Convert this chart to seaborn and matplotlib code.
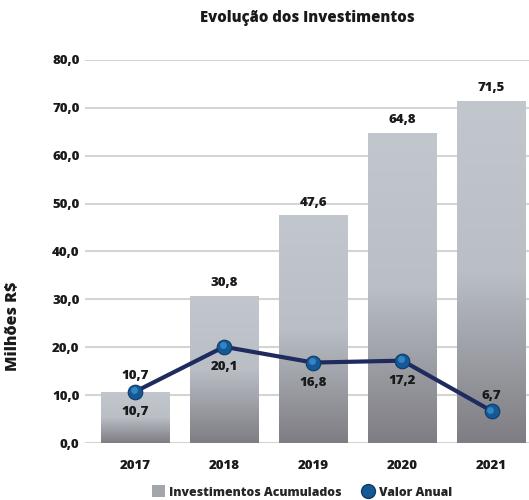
import numpy as np
import matplotlib
matplotlib.use("Agg")
import matplotlib.pyplot as plt
import matplotlib.transforms as mtransforms
from matplotlib.lines import Line2D
from matplotlib.patches import Patch
from matplotlib.colors import LinearSegmentedColormap
import pandas as pd
import seaborn as sns

# Data
anos = ["2017", "2018", "2019", "2020", "2021"]
acumulado = [10.7, 30.8, 47.6, 64.8, 71.5]
anual = [10.7, 20.1, 16.8, 17.2, 6.7]
yticks = [0, 10, 20, 30, 40, 50, 60, 70, 80]

df = pd.DataFrame({"ano": anos, "acumulado": acumulado, "anual": anual})

sns.set_style("white")
plt.rcParams["font.family"] = ["Open Sans", "DejaVu Sans"]
W = "heavy"
plt.rcParams["font.weight"] = W
TXT = "#1a1a1a"

fig = plt.figure(figsize=(5.29, 5.0), dpi=100)
ax = fig.add_axes([85 / 529, 57 / 500, 444 / 529, 383 / 500])

# bars (seaborn), then replaced by a gradient fill
sns.barplot(data=df, x="ano", y="acumulado", width=0.77, color="#a0a4aa",
            ax=ax, zorder=2)
grad = LinearSegmentedColormap.from_list(
    "g", [(0, "#7e7d83"), (0.5, "#b9bfc5"), (1, "#c1c7cd")])
gimg = np.linspace(0, 1, 256).reshape(-1, 1)
for p in ax.patches:
    x0, y0 = p.get_x(), p.get_y()
    w, h = p.get_width(), p.get_height()
    p.set_facecolor("none")
    p.set_edgecolor("none")
    im = ax.imshow(gimg, cmap=grad, origin="lower", aspect="auto",
                   extent=[x0, x0 + w, y0, y0 + h], zorder=2)
    im.set_clip_path(p)

# line
xs = np.arange(len(anos))
ax.plot(xs, anual, color="#1f2b5e", lw=3, zorder=3)
ax.plot(xs, anual, "o", ms=10.5, color="#155896", mec="#0e3a68", mew=0.8, zorder=4)
hl = mtransforms.offset_copy(ax.transData, fig=fig, x=-1.0, y=1.0, units="points")
ax.plot(xs, anual, "o", ms=5, color="#3f92d2", mew=0, alpha=0.75,
        transform=hl, zorder=5)

# value labels
for i, v in enumerate(acumulado):
    off = 11 if i == 0 else 9
    ax.annotate(f"{v:.1f}".replace(".", ","), (i, v), xytext=(0, off),
                textcoords="offset points", ha="center", va="center",
                fontsize=9.5, fontweight=W, color=TXT, zorder=6)
for i, v in enumerate(anual):
    off = 11 if i == 4 else -14.5
    ax.annotate(f"{v:.1f}".replace(".", ","), (i, v), xytext=(0, off),
                textcoords="offset points", ha="center", va="center",
                fontsize=9.5, fontweight=W, color=TXT, zorder=6)

# axes styling
ax.set_xlim(-0.56, 4.42)
ax.set_ylim(0, 80)
ax.set_yticks(yticks)
ax.set_yticklabels([f"{t:.1f}".replace(".", ",") for t in yticks])
ax.yaxis.grid(True, color="#d4d4d4", lw=1.5, zorder=0)
ax.set_axisbelow(True)
for s in ax.spines.values():
    s.set_visible(False)
ax.tick_params(axis="y", length=0, pad=4, labelsize=9.5)
ax.tick_params(axis="x", which="major", length=0, pad=12, labelsize=9.5)
ax.set_xticks([-0.5, 0.5, 1.5, 2.5, 3.5], minor=True)
ax.tick_params(axis="x", which="minor", length=12, width=1.5, color="#333333",
               direction="out")
for lab in ax.get_xticklabels() + ax.get_yticklabels():
    lab.set_fontweight(W)
    lab.set_color(TXT)

ax.set_xlabel("")
ax.set_ylabel("Milhões R$", fontsize=11.5, fontweight=W, color=TXT)
ax.yaxis.set_label_coords(-0.146, 0.305)

fig.text(0.58, 0.963, "Evolução dos Investimentos", ha="center", va="center",
         fontsize=10.7, fontweight=W, color=TXT)

handles = [
    Patch(facecolor="#a3a6ab", edgecolor="none", label="Investimentos Acumulados"),
    Line2D([], [], marker="o", ls="none", ms=10, color="#155896",
           mec="#0e3a68", label="Valor Anual"),
]
fig.legend(handles=handles, loc="center", bbox_to_anchor=(0.571, 0.016),
           ncol=2, frameon=False, handlelength=1.1,
           handleheight=1.1, handletextpad=0.35, columnspacing=1.6,
           prop={"weight": W, "size": 8.8})

fig.savefig("out.png", dpi=100)
